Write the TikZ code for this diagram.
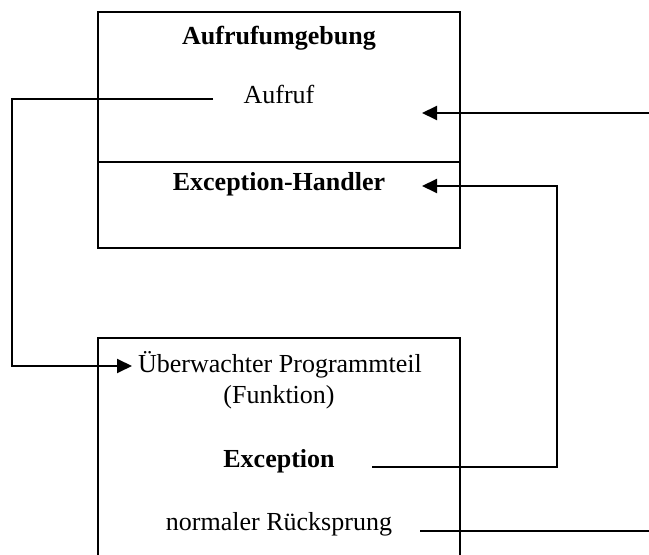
\documentclass[tikz,border=0pt]{standalone}
\usepackage{fontspec}
\setmainfont{Liberation Serif}
\usetikzlibrary{arrows.meta,calc}

\begin{document}
\begin{tikzpicture}[x=0.5pt,y=-0.5pt,line width=1pt,
		every node/.style={anchor=base,inner sep=0pt,font=\fontsize{13}{15.6}\selectfont},
		pfeil/.style={-{Triangle[length=7.5pt,width=7pt]}}]
		\useasboundingbox (0,0) rectangle (649,555);
		
		% Aufrufumgebung
		\draw (98,12) rectangle (460,248);
		\draw (98,162) -- (460,162);
		\node (umgebung) at (279,45) {\textbf{Aufrufumgebung}};
		\node (aufruf) at (279,104) {Aufruf};
		\node (handler) at (279,191) {\textbf{Exception-Handler}};
		
		% ueberwachter Programmteil
		\draw (98,556) -- (98,338) -- (460,338) -- (460,556);
		\node (teil) at (280,373) {Überwachter Programmteil};
		\node (funktion) at (279,404) {(Funktion)};
		\node (exception) at (279,468) {\textbf{Exception}};
		\node (normal) at (279,531) {normaler Rücksprung};
		
		\coordinate (aufrufAus) at (213,99);
		\coordinate (teilEin) at (132,366);
		\coordinate (rueckEin) at (422,113);
		\coordinate (rueckRand) at (649,113);
		\coordinate (handlerEin) at (422,186);
		\coordinate (excAus) at (372,467);
		\coordinate (normalAus) at (420,531);
		\coordinate (normalRand) at (649,531);
		
		\draw[pfeil] (aufrufAus) -- (12,99) -- (12,366) -- (teilEin);
		\draw[pfeil] (rueckRand) -- (rueckEin);
		\draw[pfeil] (excAus) -- (557,467) -- (557,186) -- (handlerEin);
		\draw (normalAus) -- (normalRand);
	\end{tikzpicture}
\end{document}
